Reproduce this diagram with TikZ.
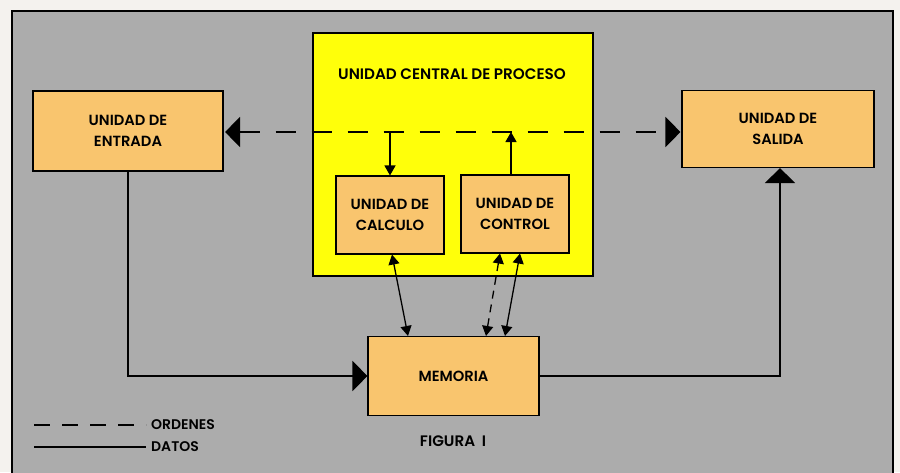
\documentclass[tikz,border=0pt]{standalone}
\usepackage{fontspec}
\setmainfont{Poppins}[BoldFont={Poppins SemiBold}]
\usetikzlibrary{arrows.meta,calc}
\definecolor{paper}{RGB}{244,242,238}
\definecolor{panel}{RGB}{172,172,172}
\definecolor{boxfill}{RGB}{249,197,110}
\definecolor{cpufill}{RGB}{255,255,10}
\tikzset{
  unitbox/.style={draw=black,line width=1.1pt,fill=boxfill,align=center,
    font=\bfseries\fontsize{14.7}{21}\selectfont,inner sep=0pt,text depth=-1.5pt},
  bigtip/.tip={Triangle[length=15pt,width=30pt]},
  smalltip/.tip={Triangle[length=10pt,width=11pt]},
  dataline/.style={line width=1.3pt,black},
  orderline/.style={line width=1.6pt,black,dash pattern=on 20pt off 16pt},
  shortdash/.style={line width=1.3pt,black,dash pattern=on 8pt off 6pt},
  lbl/.style={font=\bfseries\fontsize{15.2}{16}\selectfont,inner sep=0pt},
  legendlbl/.style={font=\bfseries\fontsize{14}{15}\selectfont,inner sep=0pt}
}
\begin{document}
\begin{tikzpicture}[x=1pt,y=-1pt]
\useasboundingbox (0,0) rectangle (900,472);
\fill[paper] (0,0) rectangle (900,472);
\draw[line width=1.5pt,fill=panel] (12,11) rectangle (893,490);
% CPU
\node[draw=black,line width=1.1pt,fill=cpufill,minimum width=280pt,minimum height=243pt,inner sep=0pt] (cpu) at (453,154.5) {};
\node[lbl] (cputitle) at (452,74) {UNIDAD CENTRAL DE PROCESO};
% units
\node[unitbox,minimum width=190pt,minimum height=80pt] (entrada) at (128,131) {UNIDAD DE\\ENTRADA};
\node[unitbox,minimum width=192pt,minimum height=77pt] (salida) at (778,129) {UNIDAD DE\\SALIDA};
\node[unitbox,minimum width=108pt,minimum height=78pt] (calc) at (390,215) {UNIDAD DE\\CALCULO};
\node[unitbox,minimum width=108pt,minimum height=78pt] (ctrl) at (515,214) {UNIDAD DE\\CONTROL};
\node[unitbox,minimum width=171pt,minimum height=79pt] (mem) at (453.5,376) {MEMORIA};
% order bus
\coordinate (busL) at ([xshift=1.5pt,yshift=-1pt]entrada.east);
\coordinate (busR) at ($(salida.west |- busL)+(-1,0)$);
\draw[orderline,{bigtip}-{bigtip}] (busL) -- (busR);
\draw[dataline,-{smalltip}] (calc.north |- busL) -- (calc.north);
\draw[dataline,-{smalltip}] ([xshift=-4pt]ctrl.north) -- ([xshift=-4pt]ctrl.north |- busL);
% CPU <-> memory
\draw[dataline,{smalltip}-{smalltip}] ([xshift=2pt]calc.south) -- ([xshift=-45.5pt]mem.north);
\draw[shortdash,{smalltip}-{smalltip}] ([xshift=-15pt]ctrl.south) -- ([xshift=32.5pt]mem.north);
\draw[dataline,{smalltip}-{smalltip}] ([xshift=5pt]ctrl.south) -- ([xshift=51.5pt]mem.north);
% data paths
\draw[dataline,-{bigtip}] (entrada.south) |- (mem.west);
\draw[dataline,-{bigtip}] (mem.east) -| ([xshift=2pt]salida.south);
% legend
\coordinate (o1) at (34,425); \coordinate (o2) at (146,425);
\coordinate (d1) at (34,447); \coordinate (d2) at (146,447);
\draw[line width=1.5pt,dash pattern=on 16pt off 12pt] (o1) -- (o2);
\draw[line width=1.5pt] (d1) -- (d2);
\node[legendlbl,anchor=west] (ordenes) at (151,425) {ORDENES};
\node[legendlbl,anchor=west] (datos) at (151,447) {DATOS};
\node[lbl] (figura) at (453,441) {FIGURA\hspace{0.2em} I};
\end{tikzpicture}
\end{document}
